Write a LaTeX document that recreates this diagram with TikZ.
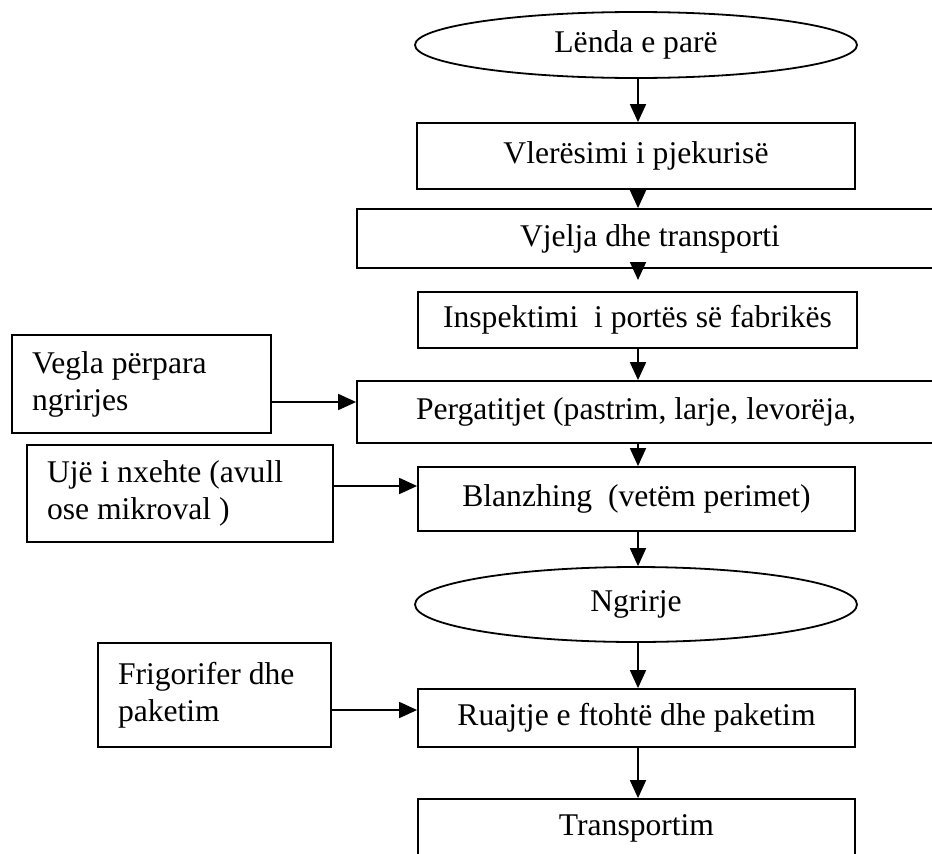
\documentclass[tikz,border=0pt]{standalone}
\usepackage{fontspec}
\setmainfont{Liberation Serif}
\usetikzlibrary{shapes.geometric,arrows.meta}
\begin{document}
\begin{tikzpicture}[x=1pt,y=1pt,
  every node/.style={font=\fontsize{31.6}{37}\selectfont},
  box/.style={draw,line width=1.8pt,rectangle,inner sep=0pt,align=center},
  sidebox/.style={draw,line width=1.8pt,rectangle,inner xsep=20pt,inner ysep=0pt,align=flush left},
  oval/.style={draw,line width=1.8pt,ellipse,inner sep=0pt,minimum width=442pt},
  arr/.style={line width=1.8pt,-{Triangle[length=18pt,width=16pt]}}]
\useasboundingbox (0,0) rectangle (932,-854);
\clip (0,0) rectangle (932,-854);
% main column
\node[oval,minimum height=66pt] (e1) at (636,-45) {Lënda e parë};
\node[box,minimum width=438pt,minimum height=66pt] (b1) at (636,-156) {Vlerësimi i pjekurisë};
\node[box,minimum width=586pt,minimum height=59pt] (b2) at (650,-238.5) {Vjelja dhe transporti};
\node[box,minimum width=439pt,minimum height=56pt] (b3) at (637.5,-320) {Inspektimi~ i portës së fabrikës};
\node[box,inner xsep=59pt,text width=482pt,align=flush left,minimum height=62pt] (b4) at (657,-412) {Pergatitjet (pastrim, larje, levorëja,};
\node[box,minimum width=437pt,minimum height=64pt] (b5) at (636.5,-499) {Blanzhing~ (vetëm perimet)};
\node[oval,minimum height=75pt] (e2) at (636,-604.5) {Ngrirje};
\node[box,minimum width=437pt,minimum height=58pt] (b6) at (636.5,-718) {Ruajtje e ftohtë dhe paketim};
\node[box,minimum width=437pt,minimum height=58pt] (b7) at (636.5,-828) {Transportim};
% side boxes
\node[sidebox,text width=219pt,minimum height=98pt] (l1) at (141.5,-384) {Vegla përpara\\ngrirjes};
\node[sidebox,text width=266pt,minimum height=97pt] (l2) at (180,-493.5) {Ujë i nxehte (avull\\ose mikroval )};
\node[sidebox,text width=193pt,minimum height=104pt] (l3) at (214.5,-695) {Frigorifer dhe\\paketim};
% connectors
\coordinate (t3) at (638,-280);
\coordinate (y1) at (0,-402);
\coordinate (y2) at (0,-486);
\coordinate (y3) at (0,-710);
\draw[arr] (e1.south -| t3) -- (b1.north -| t3);
\draw[arr] (b1.south -| t3) -- (b2.north -| t3);
\draw[arr] (b2.south -| t3) -- (t3);
\draw[arr] (b3.south -| t3) -- (b4.north -| t3);
\draw[arr] (b4.south -| t3) -- (b5.north -| t3);
\draw[arr] (b5.south -| t3) -- (e2.north -| t3);
\draw[arr] (e2.south -| t3) -- (b6.north -| t3);
\draw[arr] (b6.south -| t3) -- (b7.north -| t3);
\draw[arr] (l1.east |- y1) -- (b4.west |- y1);
\draw[arr] (l2.east |- y2) -- (b5.west |- y2);
\draw[arr] (l3.east |- y3) -- (b6.west |- y3);
\end{tikzpicture}
\end{document}
